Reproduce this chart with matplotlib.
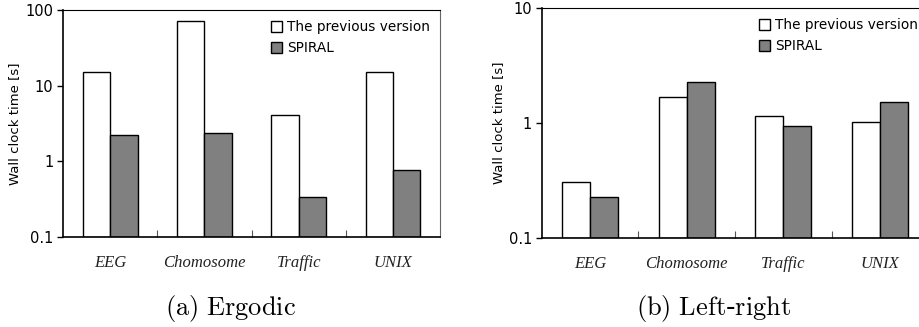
import numpy as np
import matplotlib.pyplot as plt
from matplotlib.ticker import FixedLocator, NullLocator, FixedFormatter

categories = ['EEG', 'Chomosome', 'Traffic', 'UNIX']
series = ['The previous version', 'SPIRAL']

ergodic_prev = [15.0, 72.0, 4.17, 15.4]
ergodic_spiral = [2.22, 2.36, 0.337, 0.77]

leftright_prev = [0.306, 1.70, 1.16, 1.02]
leftright_spiral = [0.225, 2.26, 0.94, 1.53]

ergodic_ticks = [0.1, 1, 10, 100]
ergodic_ticklabels = ['0.1', '1', '10', '100']
leftright_ticks = [0.1, 1, 10]
leftright_ticklabels = ['0.1', '1', '10']

captions = [r'$\mathrm{(a)\ Ergodic}$', r'$\mathrm{(b)\ Left}$-$\mathrm{right}$']

plt.rcParams['mathtext.fontset'] = 'cm'
plt.rcParams['font.family'] = 'DejaVu Sans'

fig = plt.figure(figsize=(9.2, 3.27), dpi=100)


def draw_panel(ax, prev, spiral, ticks, ticklabels, ylim):
    x = np.arange(len(categories)) + 0.5
    w = 0.29
    base = ylim[0]
    ax.bar(x - w / 2, [v - base for v in prev], w, bottom=base, color='white',
           edgecolor='black', linewidth=1.0, label=series[0])
    ax.bar(x + w / 2, [v - base for v in spiral], w, bottom=base,
           color='#808080', edgecolor='black', linewidth=1.0, label=series[1])
    ax.set_yscale('log')
    ax.set_ylim(*ylim)
    ax.set_xlim(0, len(categories))
    ax.yaxis.set_major_locator(FixedLocator(ticks))
    ax.yaxis.set_major_formatter(FixedFormatter(ticklabels))
    ax.yaxis.set_minor_locator(NullLocator())
    ax.tick_params(axis='y', direction='out', length=4, width=1, labelsize=10.5, pad=3)
    # x ticks between groups, pointing into the plot
    ax.set_xticks([1, 2, 3])
    ax.set_xticklabels([])
    ax.tick_params(axis='x', direction='in', length=5, width=0.8, color='#555555')
    for xi, name in zip(x, categories):
        ax.text(xi, -0.115, name, transform=ax.get_xaxis_transform(),
                ha='center', va='center', style='italic',
                family='Liberation Serif', fontsize=12, color='#222222')
    ax.set_ylabel('Wall clock time [s]', fontsize=9.5, labelpad=3)
    for s in ['left', 'bottom']:
        ax.spines[s].set_color('black')
        ax.spines[s].set_linewidth(1.2)
    ax.spines['top'].set_color('black')
    ax.spines['right'].set_color('#666666')
    ax.legend(loc='upper right', bbox_to_anchor=(1.0, 1.0), frameon=False,
              fontsize=9.8, handlelength=0.8, handleheight=0.8,
              handletextpad=0.35, labelspacing=0.5, borderaxespad=0.35)


ax1 = fig.add_axes([0.0685, 0.275, 0.410, 0.694])
draw_panel(ax1, ergodic_prev, ergodic_spiral, ergodic_ticks, ergodic_ticklabels, (0.1, 100))

ax2 = fig.add_axes([0.589, 0.273, 0.420, 0.702])
draw_panel(ax2, leftright_prev, leftright_spiral, leftright_ticks, leftright_ticklabels, (0.1, 10))

fig.text(0.25, 0.058, captions[0], ha='center', va='center', fontsize=19)
fig.text(0.776, 0.058, captions[1], ha='center', va='center', fontsize=19)

fig.savefig('out.png', dpi=100)
